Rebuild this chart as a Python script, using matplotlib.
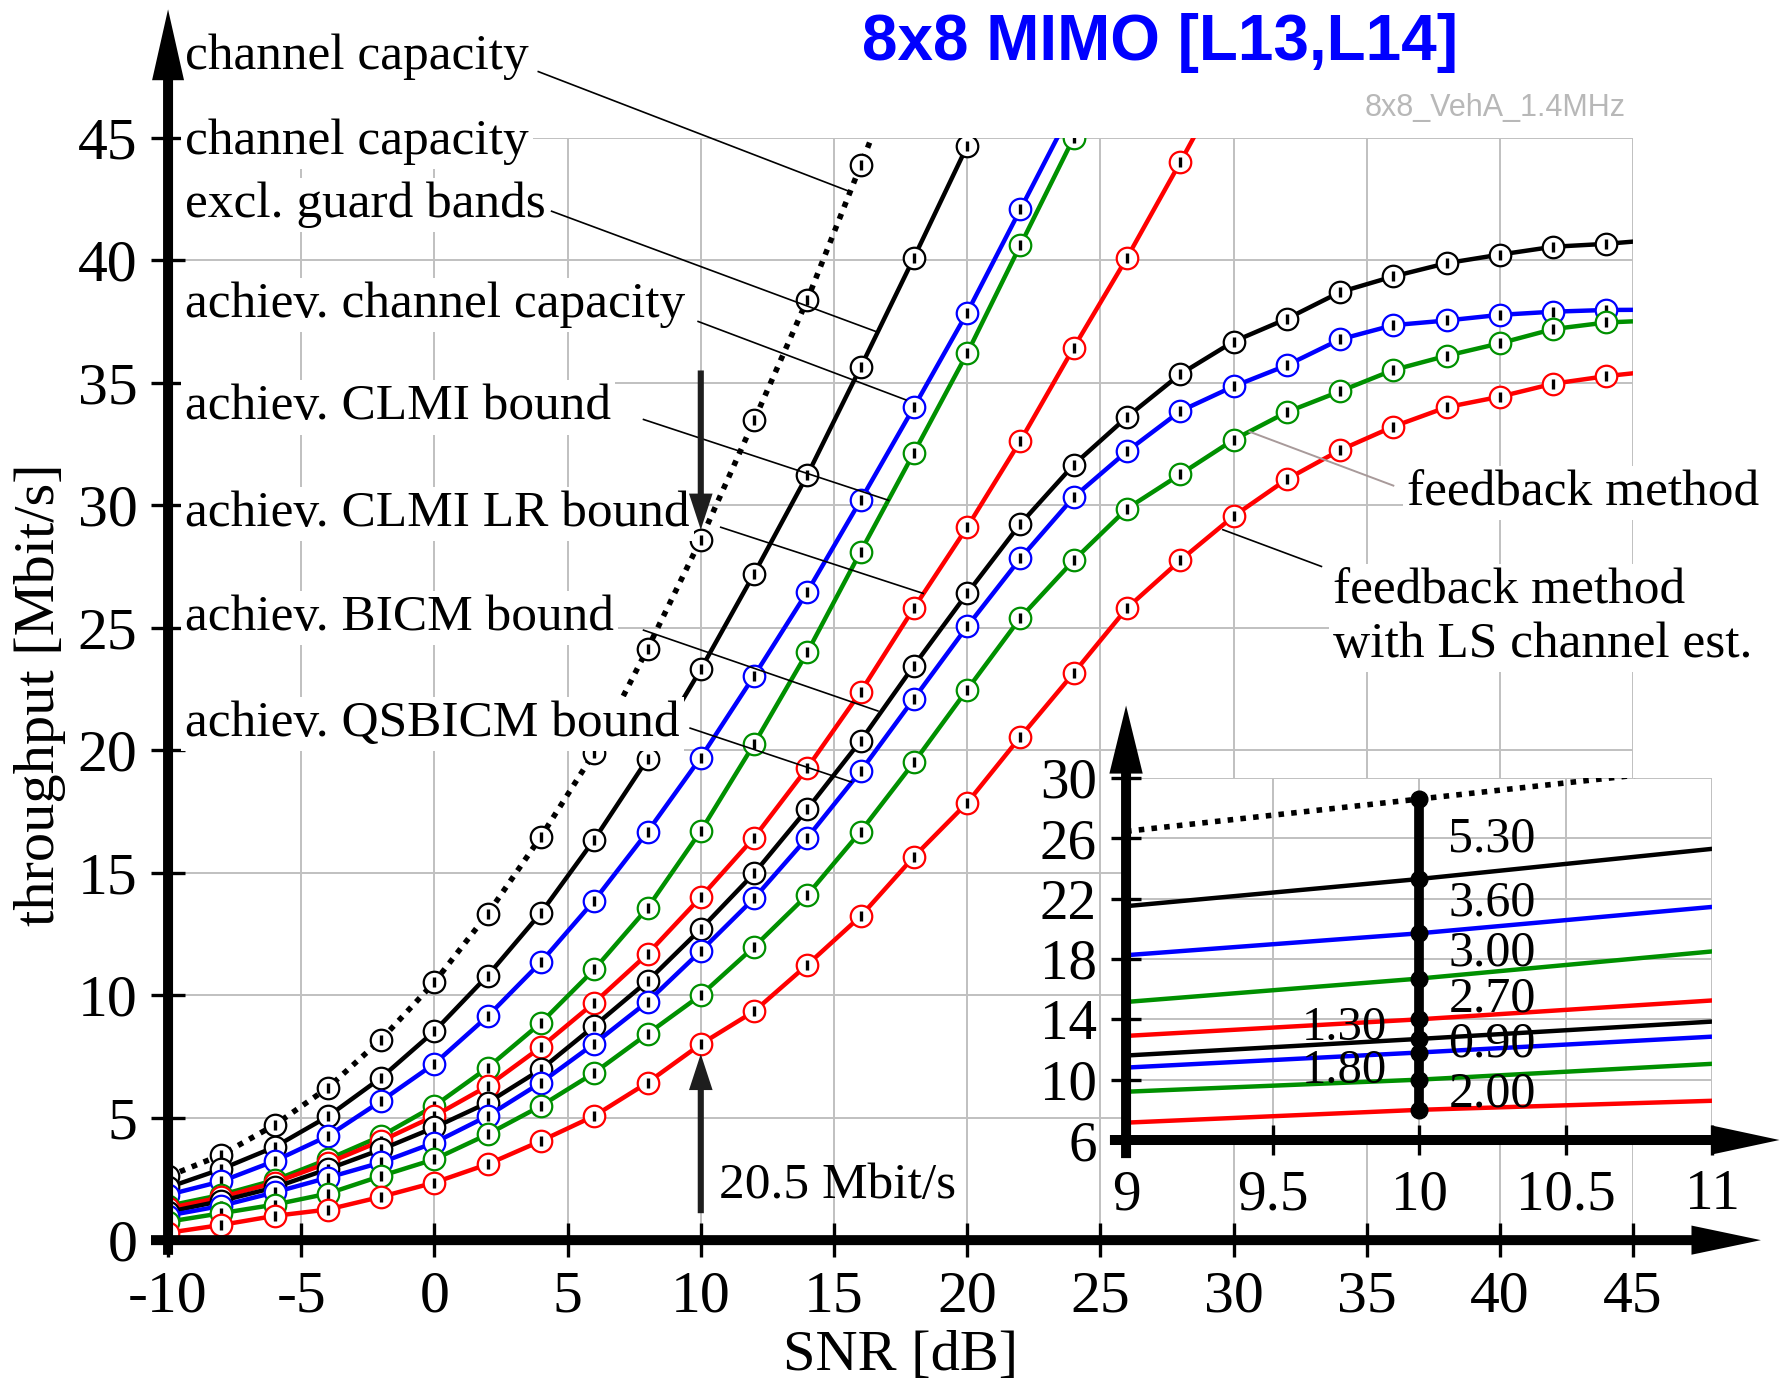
import matplotlib
matplotlib.use("Agg")
import matplotlib.pyplot as plt

plt.rcParams['font.family'] = ['Liberation Serif', 'DejaVu Serif']
plt.rcParams['axes.unicode_minus'] = False

# ---------------- data ----------------
snr_cap = [-10, -8, -6, -4, -2, 0, 2, 4, 6, 8, 10, 12, 14, 16, 18]
channel_capacity = [2.6, 3.48, 4.7, 6.22, 8.19, 10.53, 13.32, 16.47, 19.9, 24.14,
                    28.6, 33.46, 38.39, 43.87, 49.4]

snr_excl = [-10, -8, -6, -4, -2, 0, 2, 4, 6, 8, 10, 12, 14, 16, 18, 20, 22]
cap_excl_guard = [2.15, 2.9, 3.8, 5.05, 6.63, 8.53, 10.8, 13.36, 16.35, 19.64,
                  23.3, 27.2, 31.23, 35.63, 40.1, 44.66, 49.3]

snr_ach_cap = [-10, -8, -6, -4, -2, 0, 2, 4, 6, 8, 10, 12, 14, 16, 18, 20, 22, 24]
achiev_capacity = [1.85, 2.4, 3.23, 4.25, 5.68, 7.2, 9.14, 11.35, 13.86, 16.67,
                   19.7, 23.03, 26.47, 30.2, 34.0, 37.86, 42.08, 46.3]

snr_clmi = [-10, -8, -6, -4, -2, 0, 2, 4, 6, 8, 10, 12, 14, 16, 18, 20, 22, 24, 26]
achiev_clmi = [1.4, 1.85, 2.45, 3.3, 4.25, 5.48, 7.04, 8.87, 11.05, 13.56,
               16.7, 20.25, 24.0, 28.1, 32.14, 36.2, 40.62, 45.0, 49.4]

snr_clmi_lr = [-10, -8, -6, -4, -2, 0, 2, 4, 6, 8, 10, 12, 14, 16, 18, 20, 22, 24, 26, 28, 30]
achiev_clmi_lr = [1.3, 1.75, 2.35, 3.15, 4.05, 5.07, 6.29, 7.88, 9.69, 11.68,
                  14.0, 16.43, 19.28, 22.38, 25.8, 29.1, 32.63, 36.43, 40.1, 44.0, 48.0]

snr_fb = [-10, -8, -6, -4, -2, 0, 2, 4, 6, 8, 10, 12, 14, 16, 18, 20, 22, 24, 26,
          28, 30, 32, 34, 36, 38, 40, 42, 44, 46]
fb_bicm = [1.15, 1.6, 2.15, 2.9, 3.7, 4.6, 5.61, 6.97, 8.74, 10.57, 12.7, 14.97,
           17.6, 20.38, 23.45, 26.4, 29.24, 31.65, 33.6, 35.35, 36.68, 37.61, 38.7,
           39.34, 39.88, 40.23, 40.55, 40.67, 40.85]
fb_qsbicm = [1.0, 1.4, 1.95, 2.55, 3.17, 3.98, 5.07, 6.43, 8.02, 9.73, 11.8, 13.95,
             16.43, 19.14, 22.1, 25.05, 27.83, 30.33, 32.2, 33.84, 34.85, 35.71, 36.77,
             37.35, 37.54, 37.77, 37.9, 37.97, 37.98]
fb_method = [0.75, 1.1, 1.45, 1.9, 2.62, 3.3, 4.32, 5.48, 6.83, 8.42, 10.0, 11.97,
             14.09, 16.68, 19.5, 22.47, 25.4, 27.75, 29.86, 31.26, 32.67, 33.8, 34.65,
             35.52, 36.1, 36.61, 37.19, 37.46, 37.55]
fb_method_ls = [0.3, 0.62, 0.99, 1.25, 1.77, 2.35, 3.1, 4.05, 5.07, 6.43, 8.0, 9.34,
                11.24, 13.22, 15.65, 17.85, 20.55, 23.15, 25.8, 27.75, 29.55, 31.06,
                32.25, 33.21, 34.0, 34.43, 34.96, 35.27, 35.5]

snr_ticks = [-10, -5, 0, 5, 10, 15, 20, 25, 30, 35, 40, 45]
tp_ticks = [0, 5, 10, 15, 20, 25, 30, 35, 40, 45]

# inset (zoom around SNR = 10 dB)
inset_snr = [9, 10, 11]
inset_cap = [26.46, 28.6, 30.74]
inset_excl = [21.5, 23.3, 25.3]
inset_ach = [18.25, 19.7, 21.45]
inset_clmi = [15.15, 16.7, 18.5]
inset_clmi_lr = [12.9, 14.0, 15.25]
inset_bicm = [11.6, 12.7, 13.85]
inset_qsbicm = [10.8, 11.8, 12.85]
inset_fb = [9.2, 10.0, 11.05]
inset_fb_ls = [7.15, 8.0, 8.6]
inset_xticks = [9, 9.5, 10, 10.5, 11]
inset_xticklabels = ['9', '9.5', '10', '10.5', '11']
inset_yticks = [6, 10, 14, 18, 22, 26, 30]
diff_label_side = ['r', 'r', 'r', 'r', 'l', 'r', 'l', 'r']
diff_label_dy = [0, 0.2, 0.2, 0, 0.1, 0.1, -0.3, 0]

BLACK, BLUE, GREEN, RED = 'black', '#0000ff', '#009000', '#ff0000'
DOTS = (0, (1, 1.3))
GRID = '#c0c0c0'

# ---------------- figure ----------------
fig = plt.figure(figsize=(17.84, 13.83), dpi=100)
ax = fig.add_axes([0.0942, 0.1033, 0.8212, 0.7971])
ax.set_xlim(-10, 45)
ax.set_ylim(0, 45)
for s in ax.spines.values():
    s.set_visible(False)
ax.set_xticks(snr_ticks)
ax.set_yticks(tp_ticks)
ax.tick_params(direction='inout', length=24, width=2.4, labelsize=43, pad=10, color='black')
ax.grid(True, color=GRID, lw=1.4)
ax.set_axisbelow(True)

series = [
    (snr_cap, channel_capacity, BLACK, DOTS, 4.0),
    (snr_excl, cap_excl_guard, BLACK, '-', 3.2),
    (snr_ach_cap, achiev_capacity, BLUE, '-', 3.2),
    (snr_clmi, achiev_clmi, GREEN, '-', 3.2),
    (snr_clmi_lr, achiev_clmi_lr, RED, '-', 3.2),
    (snr_fb, fb_bicm, BLACK, '-', 3.2),
    (snr_fb, fb_qsbicm, BLUE, '-', 3.2),
    (snr_fb, fb_method, GREEN, '-', 3.2),
    (snr_fb, fb_method_ls, RED, '-', 3.2),
]
for k, (x, y, c, ls, lw) in enumerate(series):
    z = 3 + 0.1 * k
    ax.plot(x, y, color=c, ls=ls, lw=lw, marker='o', ms=15.5, mfc='white',
            mec=c, mew=1.6, zorder=z)
    ax.plot(x, y, ls='none', marker='|', ms=7, mew=2.4, color='black', zorder=z + 0.05)


def solid_arrow(axes, tip, tail, hl, hw, tw, color='black', z=9):
    axes.annotate('', xy=tip, xytext=tail,
                  arrowprops=dict(arrowstyle=f'simple,head_length={hl},head_width={hw},'
                                             f'tail_width={tw}',
                                  mutation_scale=20, fc=color, ec='none', lw=0,
                                  shrinkA=0, shrinkB=0),
                  annotation_clip=False, zorder=z)


# axis arrows
solid_arrow(ax, (-10, 50.24), (-10, -0.6), 2.55, 1.15, 0.36)
solid_arrow(ax, (49.8, 0), (-10.64, 0), 2.5, 1.05, 0.36)

# labels on the left
tb = dict(boxstyle='square,pad=0.08', fc='white', ec='none')
labels = [
    ('channel capacity', 48.3),
    ('channel capacity', 44.83),
    ('excl. guard bands', 42.25),
    ('achiev. channel capacity', 38.17),
    ('achiev. CLMI bound', 34.0),
    ('achiev. CLMI LR bound', 29.64),
    ('achiev. BICM bound', 25.4),
    ('achiev. QSBICM bound', 21.07),
]
for s, yy in labels:
    ax.text(-9.36, yy, s, fontsize=37, ha='left', va='center', bbox=tb, zorder=6)

leaders = [
    ((3.9, 47.7), (15.6, 42.8)),
    ((4.4, 42.0), (16.55, 37.1)),
    ((9.9, 37.5), (17.7, 34.3)),
    ((7.85, 33.5), (17.05, 30.2)),
    ((10.75, 29.1), (18.35, 26.4)),
    ((7.85, 24.9), (16.65, 21.6)),
    ((9.6, 20.9), (15.65, 18.7)),
]
for (x0, y0), (x1, y1) in leaders:
    ax.plot([x0, x1], [y0, y1], color='black', lw=1.2, clip_on=False, zorder=7)

ax.plot([30.6, 36.0], [33.0, 30.8], color='#a89a9a', lw=1.4, zorder=7)
ax.plot([29.6, 33.3], [29.0, 27.5], color='black', lw=1.2, zorder=7)
ax.text(36.5, 30.5, 'feedback method', fontsize=37, ha='left', va='center',
        bbox=tb, zorder=6)
ax.text(33.75, 25.4, 'feedback method\nwith LS channel est.', fontsize=37,
        ha='left', va='center', linespacing=1.2, bbox=tb, zorder=6)

# SNR = 10 dB markers
solid_arrow(ax, (10, 29.0), (10, 35.5), 1.3, 0.85, 0.22, color='#1e1e1e', z=8)
solid_arrow(ax, (10, 7.6), (10, 1.1), 1.3, 0.85, 0.22, color='#1e1e1e', z=8)
ax.text(10.7, 2.2, '20.5 Mbit/s', fontsize=37, ha='left', va='center', zorder=6)

fig.text(0.5048, 0.0195, 'SNR [dB]', fontsize=42, ha='center', va='center')
fig.text(0.0224, 0.498, 'throughput [Mbit/s]', fontsize=42, ha='center', va='center',
         rotation=90)

fig.text(0.650, 0.969, '8x8 MIMO [L13,L14]', fontsize=46, fontweight='bold',
         color='#0000ff', ha='center', va='center', family='Liberation Sans')
fig.text(0.911, 0.922, '8x8_VehA_1.4MHz', fontsize=22, color='#b8b8b8',
         ha='right', va='center', family='Liberation Sans')

# ---------------- inset ----------------
axi = fig.add_axes([0.6312, 0.1757, 0.3285, 0.2618], facecolor='white', zorder=4)
axi.set_xlim(9, 11)
axi.set_ylim(6, 30)
for s in axi.spines.values():
    s.set_visible(False)
axi.set_xticks(inset_xticks)
axi.set_xticklabels(inset_xticklabels)
axi.set_yticks(inset_yticks)
axi.grid(True, color=GRID, lw=1.4)
axi.set_axisbelow(True)
axi.tick_params(direction='inout', length=22, width=2.4, labelsize=41,
                pad=10, color='black')

inset_series = [
    (inset_cap, BLACK, DOTS, 4.0),
    (inset_excl, BLACK, '-', 3.2),
    (inset_ach, BLUE, '-', 3.2),
    (inset_clmi, GREEN, '-', 3.2),
    (inset_clmi_lr, RED, '-', 3.2),
    (inset_bicm, BLACK, '-', 3.2),
    (inset_qsbicm, BLUE, '-', 3.2),
    (inset_fb, GREEN, '-', 3.2),
    (inset_fb_ls, RED, '-', 3.2),
]
vals10 = []
for y, c, ls, lw in inset_series:
    axi.plot(inset_snr, y, color=c, ls=ls, lw=lw, zorder=3)
    vals10.append(y[1])

x10 = inset_snr[1]
axi.plot([x10, x10], [min(vals10), max(vals10)], color='black', lw=7,
         solid_capstyle='butt', zorder=5)
axi.plot([x10] * len(vals10), vals10, ls='none', marker='o', ms=12, color='black',
         zorder=6)
for i, side in enumerate(diff_label_side):
    mid = (vals10[i] + vals10[i + 1]) / 2 + diff_label_dy[i]
    txt = f'{vals10[i] - vals10[i + 1]:.2f}'
    if side == 'r':
        axi.text(x10 + 0.1, mid, txt, fontsize=36, ha='left', va='center', zorder=4)
    else:
        axi.text(x10 - 0.11, mid, txt, fontsize=35, ha='right', va='center', zorder=4)

solid_arrow(axi, (9, 34.8), (9, 4.8), 2.45, 1.2, 0.36)
solid_arrow(axi, (11.23, 6), (8.945, 6), 2.45, 1.05, 0.36)

fig.savefig('out.png', dpi=100)
